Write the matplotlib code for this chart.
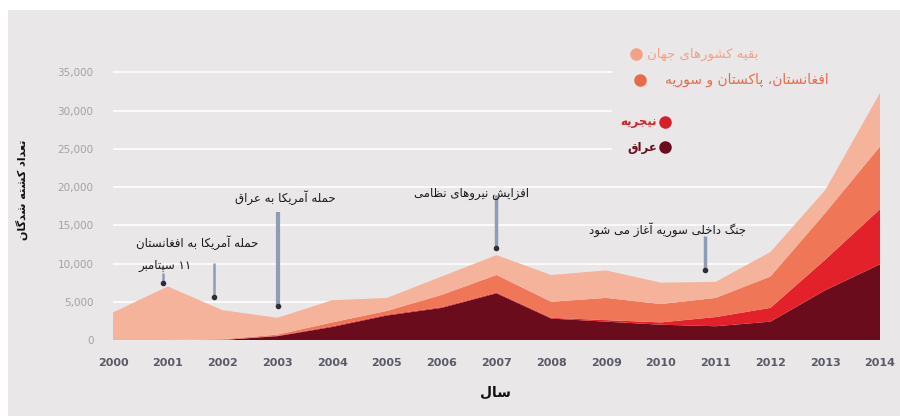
import matplotlib
matplotlib.use('Agg')
import matplotlib.pyplot as plt
from matplotlib.patches import Rectangle

# --- داده ها (هزار نفر) ---
years = list(range(2000, 2015))
iraq = [0, 0, 0, 0.5, 1.7, 3.2, 4.2, 6.1, 2.8, 2.4, 2.0, 1.8, 2.4, 6.5, 9.9]
nigeria = [0, 0, 0, 0.05, 0.1, 0.1, 0.1, 0.1, 0.1, 0.2, 0.3, 1.2, 1.8, 4.0, 7.2]
afpaksyr = [0, 0, 0.1, 0.15, 0.5, 0.5, 1.6, 2.3, 2.1, 2.9, 2.4, 2.5, 4.1, 6.1, 8.2]
rest = [3.6, 7.0, 3.8, 2.2, 2.9, 1.7, 2.4, 2.6, 3.5, 3.6, 2.8, 2.1, 3.2, 3.0, 7.0]
yticks = [0, 5000, 10000, 15000, 20000, 25000, 30000, 35000]

series_names = ['عراق', 'نیجریه', 'افغانستان، پاکستان و سوریه', 'بقیه کشورهای جهان']
events = ['۱۱ سپتامبر', 'حمله آمریکا به افغانستان', 'حمله آمریکا به عراق',
          'افزایش نیروهای نظامی', 'جنگ داخلی سوریه آغاز می شود']

COLORS = ['#6b0c1d', '#e3212b', '#ef7656', '#f6b39b']
BG = '#e9e7e8'

# --- شکل دادن حروف فارسی (matplotlib خودش این کار را نمی کند) ---
FORMS = {
    'ا': (0xFE8D, 0xFE8E, None, None), 'آ': (0xFE81, 0xFE82, None, None),
    'د': (0xFEA9, 0xFEAA, None, None), 'ر': (0xFEAD, 0xFEAE, None, None),
    'ز': (0xFEAF, 0xFEB0, None, None), 'و': (0xFEED, 0xFEEE, None, None),
    'ب': (0xFE8F, 0xFE90, 0xFE91, 0xFE92), 'پ': (0xFB56, 0xFB57, 0xFB58, 0xFB59),
    'ت': (0xFE95, 0xFE96, 0xFE97, 0xFE98), 'ج': (0xFE9D, 0xFE9E, 0xFE9F, 0xFEA0),
    'ح': (0xFEA1, 0xFEA2, 0xFEA3, 0xFEA4), 'خ': (0xFEA5, 0xFEA6, 0xFEA7, 0xFEA8),
    'س': (0xFEB1, 0xFEB2, 0xFEB3, 0xFEB4), 'ش': (0xFEB5, 0xFEB6, 0xFEB7, 0xFEB8),
    'ظ': (0xFEC5, 0xFEC6, 0xFEC7, 0xFEC8), 'ع': (0xFEC9, 0xFECA, 0xFECB, 0xFECC),
    'غ': (0xFECD, 0xFECE, 0xFECF, 0xFED0), 'ف': (0xFED1, 0xFED2, 0xFED3, 0xFED4),
    'ق': (0xFED5, 0xFED6, 0xFED7, 0xFED8), 'ک': (0xFB8E, 0xFB8F, 0xFB90, 0xFB91),
    'گ': (0xFB92, 0xFB93, 0xFB94, 0xFB95), 'ل': (0xFEDD, 0xFEDE, 0xFEDF, 0xFEE0),
    'م': (0xFEE1, 0xFEE2, 0xFEE3, 0xFEE4), 'ن': (0xFEE5, 0xFEE6, 0xFEE7, 0xFEE8),
    'ه': (0xFEE9, 0xFEEA, 0xFEEB, 0xFEEC), 'ی': (0xFBFC, 0xFBFD, 0xFBFE, 0xFBFF),
}


def fa(s):
    out = []
    for i, c in enumerate(s):
        if c not in FORMS:
            out.append(c)
            continue
        iso, fin, ini, med = FORMS[c]
        prev = s[i - 1] if i > 0 else ''
        nxt = s[i + 1] if i + 1 < len(s) else ''
        jp = prev in FORMS and FORMS[prev][2] is not None
        jn = ini is not None and nxt in FORMS
        if jp and jn:
            out.append(chr(med))
        elif jp:
            out.append(chr(fin))
        elif jn:
            out.append(chr(ini))
        else:
            out.append(chr(iso))
    return ''.join(reversed(out))


fig = plt.figure(figsize=(9, 4.16), dpi=100, facecolor='white')
fig.patches.append(Rectangle((8 / 900, 0), 1, 406 / 416, transform=fig.transFigure,
                             facecolor=BG, edgecolor='none', zorder=-10))

ax = fig.add_axes([113 / 900, 76 / 416, 767 / 900, 283 / 416])
ax.set_facecolor('none')

k = lambda v: [x * 1000 for x in v]
ax.stackplot(years, k(iraq), k(nigeria), k(afpaksyr), k(rest), colors=COLORS,
             zorder=2, linewidth=0)

ax.set_xlim(2000, 2014)
ax.set_ylim(0, 37000)
ax.set_yticks(yticks)
ax.set_yticklabels([f'{v:,}' for v in yticks], color='#a3a3a3', fontsize=7.5)
ax.set_xticks(years)
ax.set_xticklabels([str(y) for y in years], color='#5a5a66', fontsize=8, fontweight='bold')
ax.tick_params(axis='both', length=0)
ax.tick_params(axis='y', pad=14)
ax.tick_params(axis='x', pad=13)
for s in ax.spines.values():
    s.set_visible(False)
ax.grid(axis='y', color='white', linewidth=1.2, zorder=0)
ax.grid(axis='x', visible=False)
ax.set_axisbelow(True)
# ناحیه راهنما خطوط شبکه را می پوشاند
ax.add_patch(Rectangle((2009.1, 22500), 5, 14500, facecolor=BG, edgecolor='none', zorder=1))

# --- رویدادها ---
ev_pos = [  # (x متن, y متن, x خط, بالای خط, پایین خط, ضخامت)
    (2000.95, 9700, 2000.92, 8800, 7500, 1.8),
    (2001.53, 12700, 2001.84, 10100, 5600, 1.8),
    (2003.14, 18600, 2003.01, 16700, 4400, 3),
    (2006.55, 19200, 2006.99, 19000, 12000, 2.5),
    (2010.13, 14400, 2010.80, 13600, 9150, 2.5),
]
for lbl, (tx, ty, lx, y0, y1, lw) in zip(events, ev_pos):
    ax.plot([lx, lx], [y0, y1], color='#8d9db3', lw=lw, zorder=4, solid_capstyle='butt')
    ax.plot([lx], [y1], marker='o', ms=3, color='#2e2e38', zorder=5)
    ax.text(tx, ty, fa(lbl), ha='center', va='center', fontsize=8.5, color='#1a1a1a', zorder=6)

# --- راهنما ---
leg = [  # (متن, رنگ متن, x متن, ha, x دایره, y, اندازه, وزن)
    (series_names[3], '#f2a287', 647, 'left', 636, 54, 9.5, 'normal'),
    (series_names[2], '#e9694b', 665, 'left', 640, 80, 10, 'normal'),
    (series_names[1], '#d81f27', 657, 'right', 665, 122, 8.5, 'bold'),
    (series_names[0], '#6b0c1d', 657, 'right', 665, 147, 8.5, 'bold'),
]
for lbl, tc, tx, ha, cx, y, fs, fw in leg:
    yy = 1 - y / 416
    fig.text(tx / 900, yy, fa(lbl), ha=ha, va='center', fontsize=fs, color=tc, fontweight=fw)
    fig.lines.append(plt.Line2D([cx / 900], [yy], marker='o', ms=8, color=tc,
                                transform=fig.transFigure))

fig.text(495 / 900, 1 - 393 / 416, fa('سال'), ha='center', va='center', fontsize=10,
         fontweight='bold', color='#111111')
fig.text(22 / 900, 1 - 190 / 416, fa('تعداد کشته شدگان'), ha='center', va='center',
         fontsize=8, fontweight='bold', rotation=90, color='#111111')

fig.savefig('out.png', dpi=100, facecolor='white')
